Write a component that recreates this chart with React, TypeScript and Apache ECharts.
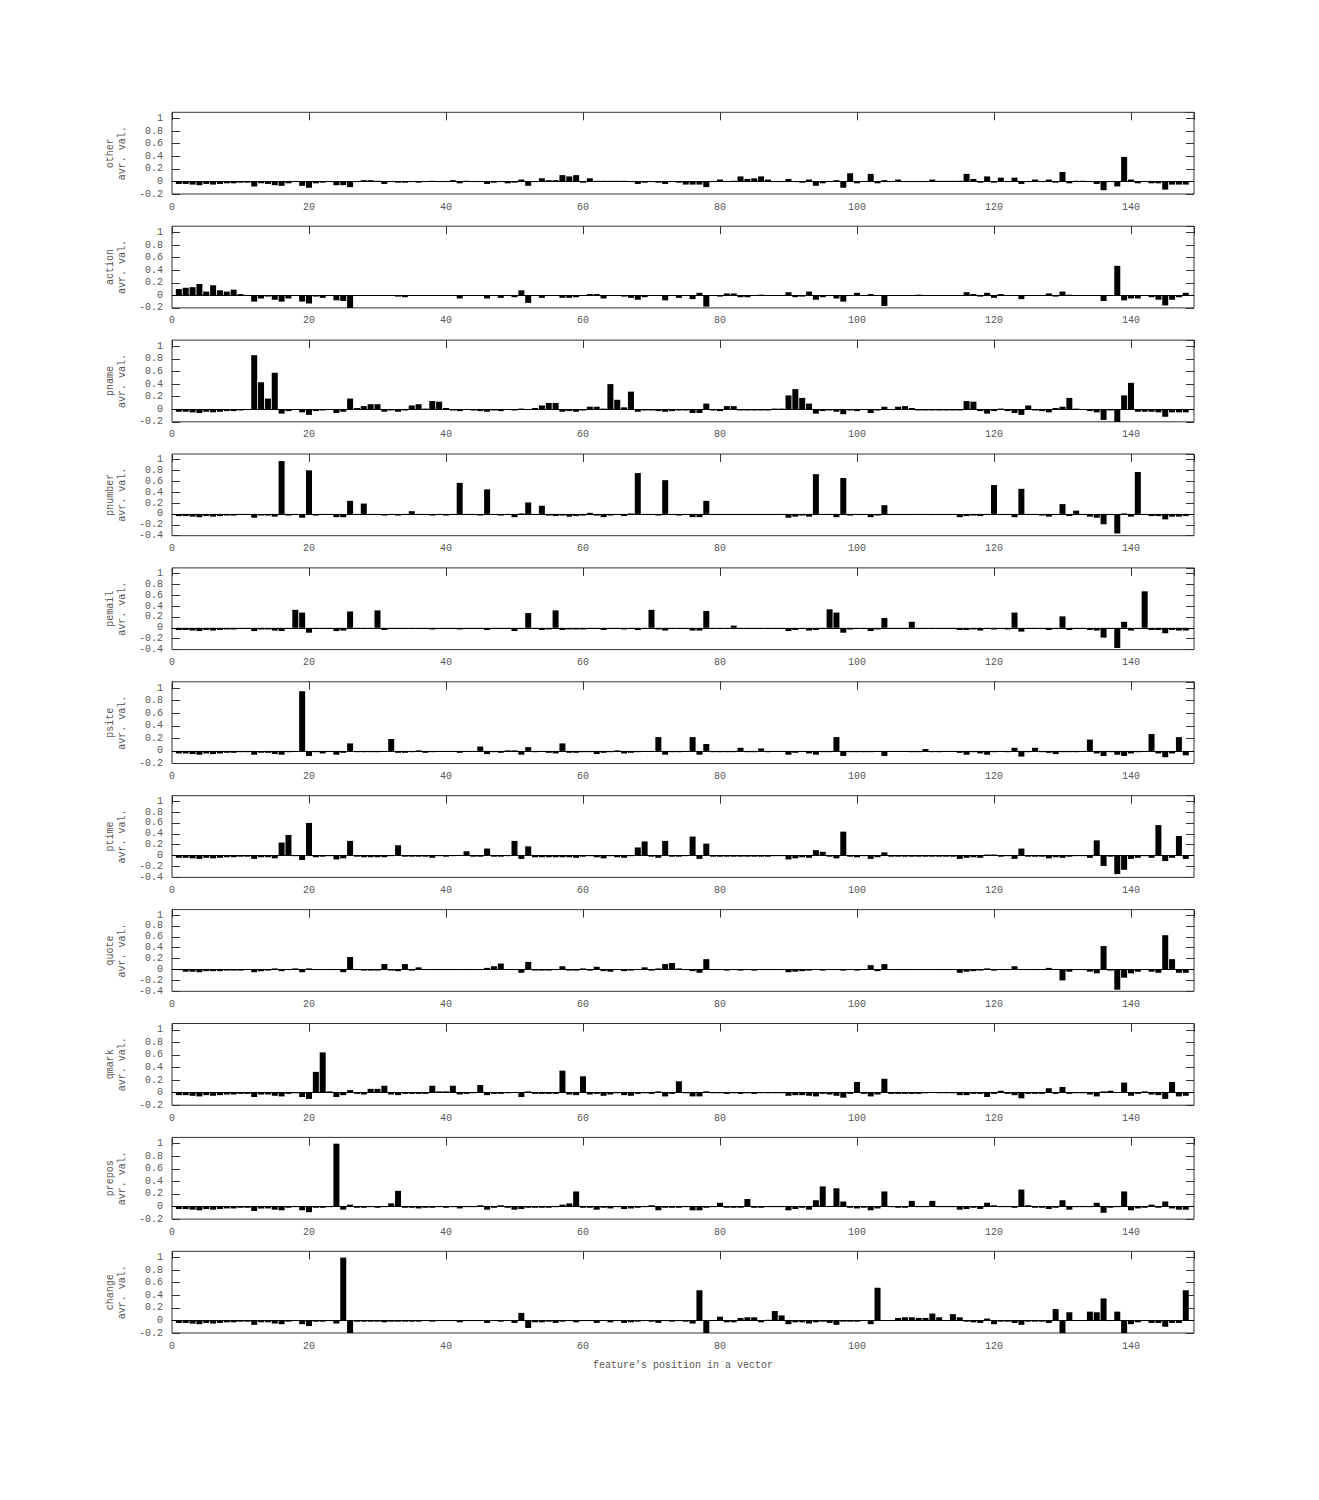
import React, { useEffect, useRef } from "react";
import * as echarts from "echarts";

const panelNames = ["other", "action", "pname", "pnumber", "pemail", "psite", "ptime", "quote", "qmark", "prepos", "change"];
const yMins = [-0.2, -0.2, -0.2, -0.4, -0.4, -0.2, -0.4, -0.4, -0.2, -0.2, -0.2];
const yMax = 1.1;
const xMax = 149.2;
const xTitle = "feature's position in a vector";
const yTitleSuffix = "avr. val.";

const other = [
  -0.04,-0.04,-0.05,-0.06,-0.04,-0.05,-0.04,-0.03,-0.03,-0.02,
  -0.02,-0.08,-0.03,-0.04,-0.06,-0.07,-0.03,-0.01,-0.07,-0.1,
  -0.03,-0.02,-0.01,-0.06,-0.06,-0.09,-0.01,0.02,0.02,0.01,
  -0.04,-0.01,-0.02,-0.02,-0.01,-0.02,-0.01,0.01,-0.01,-0.01,
  0.02,-0.03,0.01,-0.01,-0.01,-0.04,-0.02,-0.01,-0.03,-0.02,
  0.03,-0.07,-0.01,0.05,0.02,0.02,0.1,0.08,0.1,-0.02,
  0.05,0.01,0.01,0.01,0.01,0.01,-0.01,-0.04,-0.02,-0.01,
  -0.02,-0.04,-0.01,-0.02,-0.05,-0.05,-0.05,-0.09,-0.01,0.03,
  -0.01,0.01,0.08,0.04,0.05,0.08,0.03,-0.01,-0.01,0.04,
  -0.01,-0.02,0.03,-0.07,-0.03,-0.01,0.02,-0.1,0.13,-0.03,
  -0.01,0.12,-0.03,0.02,-0.01,0.03,-0.01,-0.01,-0.01,-0.01,
  0.03,0.01,0.01,0.01,0.01,0.12,0.04,-0.02,0.08,-0.02,
  0.06,-0.01,0.06,-0.04,-0.01,0.03,-0.01,0.03,-0.02,0.15,
  -0.03,0.01,0.01,-0.01,-0.04,-0.14,-0.01,-0.08,0.39,0.03,
  -0.03,-0.01,-0.03,-0.03,-0.13,-0.05,-0.05,-0.05,
];

const action = [
  0.1,0.12,0.13,0.18,0.06,0.16,0.08,0.06,0.09,0.02,
  -0.01,-0.1,-0.05,-0.02,-0.07,-0.1,-0.05,-0.01,-0.1,-0.13,
  -0.02,-0.04,-0.01,-0.08,-0.09,-0.25,-0.01,-0.01,-0.01,-0.01,
  -0.01,-0.01,-0.02,-0.03,-0.01,-0.01,-0.01,-0.01,-0.01,-0.01,
  -0.01,-0.05,-0.01,-0.01,-0.01,-0.05,-0.01,-0.04,-0.01,-0.03,
  0.08,-0.12,-0.01,-0.04,-0.01,-0.01,-0.04,-0.04,-0.03,-0.01,
  0.02,0.02,-0.05,-0.01,-0.01,-0.02,-0.04,-0.07,-0.03,-0.01,
  -0.01,-0.08,-0.01,-0.04,-0.01,-0.06,0.04,-0.18,-0.01,-0.02,
  0.03,0.03,-0.03,-0.03,-0.01,0.01,-0.01,-0.01,-0.01,0.05,
  -0.03,-0.02,0.06,-0.07,-0.03,-0.01,-0.05,-0.1,-0.01,0.04,
  -0.01,0.02,-0.01,-0.17,-0.01,-0.01,-0.01,-0.01,0.01,-0.01,
  -0.01,-0.01,-0.01,-0.01,-0.01,0.05,0.02,-0.02,0.04,-0.04,
  0.02,-0.01,-0.01,-0.06,-0.01,-0.01,-0.01,0.03,-0.02,0.06,
  0.01,-0.01,-0.01,-0.01,-0.01,-0.09,-0.01,0.47,-0.08,-0.05,
  -0.05,-0.01,-0.03,-0.07,-0.16,-0.07,-0.03,0.04,
];

const pname = [
  -0.04,-0.04,-0.05,-0.06,-0.04,-0.05,-0.04,-0.03,-0.03,-0.02,
  -0.01,0.86,0.43,0.17,0.58,-0.07,-0.03,-0.01,-0.05,-0.09,
  -0.03,-0.02,-0.01,-0.06,-0.04,0.17,0.02,0.05,0.08,0.08,
  -0.04,-0.02,-0.04,-0.02,0.06,0.08,0.01,0.13,0.12,0.02,
  -0.02,-0.03,-0.01,-0.02,-0.03,-0.04,-0.02,-0.03,-0.01,-0.02,
  0.01,-0.01,0.02,0.06,0.1,0.1,-0.04,-0.03,-0.04,-0.02,
  0.04,0.04,0.01,0.4,0.15,0.03,0.28,-0.04,-0.02,-0.02,
  -0.03,-0.04,-0.03,-0.02,-0.02,-0.06,-0.06,0.09,-0.02,-0.03,
  0.05,0.05,-0.02,-0.02,-0.02,-0.02,-0.02,0.01,0.01,0.22,
  0.32,0.18,0.09,-0.07,-0.03,-0.02,-0.04,-0.08,-0.02,-0.03,
  -0.01,-0.06,-0.02,0.04,-0.01,0.04,0.05,0.02,-0.02,-0.02,
  -0.02,-0.02,-0.02,-0.02,-0.02,0.13,0.12,-0.03,-0.07,-0.03,
  0.01,-0.03,-0.06,-0.09,0.06,-0.02,-0.03,-0.05,0.02,0.04,
  0.18,0.01,-0.01,-0.03,-0.05,-0.17,-0.02,-0.22,0.22,0.42,
  -0.04,-0.04,-0.04,-0.05,-0.12,-0.05,-0.05,-0.05,
];

const pnumber = [
  -0.04,-0.04,-0.05,-0.06,-0.04,-0.05,-0.04,-0.03,-0.03,-0.02,
  -0.02,-0.07,-0.03,-0.03,-0.05,0.97,-0.03,-0.01,-0.07,0.8,
  -0.03,-0.02,-0.01,-0.06,-0.06,0.24,-0.01,0.19,-0.02,-0.02,
  -0.03,-0.02,-0.03,-0.02,0.05,-0.02,-0.01,-0.03,-0.01,-0.03,
  -0.01,0.57,-0.02,-0.01,-0.03,0.45,-0.02,-0.03,-0.01,-0.06,
  0.01,0.21,-0.02,0.15,-0.03,-0.04,-0.03,-0.05,-0.04,-0.03,
  0.02,-0.03,-0.06,-0.03,-0.01,-0.04,0.01,0.75,-0.02,-0.01,
  -0.03,0.62,-0.02,-0.03,-0.01,-0.06,-0.06,0.24,-0.02,-0.02,
  -0.02,-0.02,-0.02,-0.02,-0.02,-0.02,-0.02,-0.02,-0.02,-0.07,
  -0.05,-0.03,-0.05,0.73,-0.02,-0.02,-0.06,0.66,-0.03,-0.02,
  -0.02,-0.06,-0.03,0.16,-0.02,-0.02,-0.02,-0.02,-0.02,-0.02,
  -0.02,-0.02,-0.02,-0.02,-0.06,-0.04,-0.03,-0.04,-0.02,0.53,
  -0.02,-0.02,-0.06,0.46,-0.02,-0.02,-0.03,-0.05,-0.02,0.18,
  -0.04,0.06,-0.02,-0.05,-0.07,-0.19,-0.02,-0.36,0.01,-0.05,
  0.77,-0.02,-0.04,-0.04,-0.1,-0.05,-0.05,-0.04,
];

const pemail = [
  -0.04,-0.04,-0.05,-0.06,-0.04,-0.05,-0.04,-0.03,-0.03,-0.02,
  -0.02,-0.06,-0.03,-0.03,-0.05,-0.06,-0.02,0.33,0.28,-0.09,
  -0.02,-0.02,-0.01,-0.06,-0.05,0.3,-0.02,-0.01,-0.02,0.32,
  -0.04,-0.02,-0.02,-0.02,-0.02,-0.02,-0.01,-0.03,-0.01,-0.01,
  -0.01,-0.03,-0.01,-0.01,-0.02,-0.04,-0.01,-0.02,-0.01,-0.06,
  -0.01,0.27,-0.02,-0.04,-0.03,0.32,-0.04,-0.03,-0.03,-0.03,
  -0.02,-0.02,-0.04,-0.02,-0.02,-0.03,-0.01,-0.04,-0.02,0.33,
  -0.03,-0.05,-0.02,-0.01,-0.01,-0.05,-0.05,0.31,-0.02,-0.02,
  -0.02,0.04,-0.02,-0.01,-0.01,-0.01,-0.01,-0.01,-0.02,-0.06,
  -0.04,-0.02,-0.05,-0.04,-0.02,0.34,0.28,-0.09,-0.03,-0.02,
  -0.01,-0.06,-0.03,0.18,-0.02,-0.02,-0.01,0.11,-0.02,-0.02,
  -0.02,-0.02,-0.02,-0.02,-0.04,-0.04,-0.03,-0.05,-0.02,-0.03,
  -0.02,-0.03,0.28,-0.07,-0.02,-0.02,-0.02,-0.04,-0.01,0.21,
  -0.04,-0.02,-0.02,-0.04,-0.05,-0.18,-0.02,-0.37,0.11,-0.05,
  -0.02,0.67,-0.04,-0.04,-0.1,-0.04,-0.05,-0.05,
];

const psite = [
  -0.04,-0.04,-0.05,-0.06,-0.04,-0.05,-0.04,-0.03,-0.03,-0.02,
  -0.02,-0.06,-0.03,-0.03,-0.05,-0.06,-0.02,-0.01,0.95,-0.08,
  -0.02,-0.04,-0.01,-0.06,-0.03,0.12,-0.02,-0.02,-0.02,-0.02,
  -0.01,0.19,-0.03,-0.03,-0.02,0.01,-0.03,-0.02,-0.01,-0.01,
  -0.01,-0.03,-0.01,-0.01,0.07,-0.05,-0.02,-0.03,0.01,0.01,
  -0.06,0.06,-0.02,-0.01,-0.03,-0.04,0.12,-0.03,-0.03,-0.02,
  -0.02,-0.05,-0.03,-0.02,0.01,-0.04,-0.03,-0.02,-0.01,-0.01,
  0.22,-0.06,-0.02,-0.02,-0.01,0.22,-0.06,0.11,-0.02,-0.02,
  -0.02,-0.02,0.05,-0.02,-0.02,0.04,-0.02,-0.01,-0.01,-0.06,
  -0.03,-0.01,-0.04,-0.06,-0.02,-0.02,0.22,-0.08,-0.02,-0.02,
  -0.02,-0.02,-0.01,-0.08,-0.01,-0.01,-0.01,-0.02,-0.02,0.03,
  -0.02,-0.02,-0.01,-0.01,-0.03,-0.06,-0.02,-0.04,-0.06,-0.02,
  -0.01,-0.02,0.05,-0.09,-0.02,0.05,-0.02,-0.03,-0.05,-0.02,
  -0.02,-0.02,-0.01,0.18,-0.04,-0.08,-0.02,-0.06,-0.08,-0.04,
  -0.02,-0.01,0.27,-0.04,-0.1,-0.04,0.22,-0.07,
];

const ptime = [
  -0.04,-0.04,-0.05,-0.06,-0.04,-0.05,-0.04,-0.03,-0.03,-0.02,
  -0.02,-0.06,-0.03,-0.03,-0.05,0.24,0.38,-0.01,-0.08,0.6,
  -0.03,-0.02,-0.01,-0.07,-0.05,0.27,-0.02,-0.03,-0.03,-0.03,
  -0.03,-0.01,0.19,-0.02,-0.02,-0.02,-0.02,-0.04,-0.01,-0.02,
  -0.01,0.01,0.08,-0.02,-0.02,0.13,-0.02,-0.02,-0.01,0.27,
  -0.06,0.17,-0.03,-0.03,-0.03,-0.03,-0.03,-0.03,-0.04,-0.02,
  -0.01,-0.03,-0.05,-0.01,-0.03,-0.04,-0.01,0.15,0.26,-0.02,
  -0.04,0.27,-0.02,-0.02,-0.01,0.35,-0.06,0.22,-0.02,-0.02,
  -0.02,-0.02,-0.02,-0.02,-0.02,-0.02,-0.02,-0.01,-0.01,-0.07,
  -0.05,-0.03,-0.04,0.1,0.07,-0.02,-0.05,0.44,-0.02,-0.03,
  -0.01,-0.06,-0.03,0.06,-0.02,-0.02,-0.02,-0.02,-0.02,-0.02,
  -0.02,-0.02,-0.02,-0.02,-0.06,-0.04,-0.03,-0.04,0.02,0.02,
  -0.02,-0.01,-0.06,0.13,-0.02,-0.02,-0.02,-0.05,-0.03,-0.04,
  -0.02,-0.01,-0.01,-0.04,0.28,-0.19,-0.02,-0.34,-0.26,-0.06,
  -0.04,-0.01,-0.04,0.56,-0.1,-0.04,0.36,-0.06,
];

const quote = [
  -0.01,-0.04,-0.04,-0.05,-0.03,-0.03,-0.03,-0.02,-0.02,-0.02,
  -0.01,-0.05,-0.03,-0.02,0.02,-0.03,-0.01,0.02,-0.05,0.02,
  -0.01,-0.01,-0.01,-0.01,-0.05,0.23,-0.01,-0.02,-0.02,-0.02,
  0.1,-0.02,-0.03,0.1,-0.02,0.04,-0.01,-0.01,-0.01,-0.01,
  -0.01,-0.01,-0.01,-0.01,-0.01,0.03,0.06,0.11,0.01,0.01,
  -0.06,0.14,-0.02,-0.02,-0.02,-0.01,0.06,-0.02,-0.02,0.02,
  -0.02,0.05,-0.03,-0.04,-0.01,-0.03,-0.02,0.01,0.04,-0.02,
  0.02,0.1,0.12,0.02,-0.01,-0.03,-0.06,0.19,-0.01,-0.01,
  -0.02,-0.01,-0.02,-0.01,-0.02,-0.01,-0.01,-0.01,-0.01,-0.05,
  -0.04,-0.03,-0.02,0.01,-0.02,-0.01,-0.01,-0.02,-0.01,-0.02,
  -0.01,0.08,-0.03,0.1,-0.01,-0.01,-0.01,-0.01,-0.01,-0.01,
  -0.01,-0.01,-0.01,-0.01,-0.06,-0.04,-0.03,-0.02,0.02,-0.02,
  -0.01,-0.01,0.06,0.01,-0.01,-0.01,-0.01,0.03,0.01,-0.2,
  -0.04,-0.01,-0.01,-0.04,-0.07,0.43,-0.02,-0.37,-0.15,-0.07,
  -0.04,-0.01,-0.04,-0.06,0.63,0.19,-0.06,-0.06,
];

const qmark = [
  -0.04,-0.04,-0.05,-0.06,-0.04,-0.05,-0.04,-0.03,-0.03,-0.02,
  -0.02,-0.07,-0.03,-0.03,-0.05,-0.06,-0.02,-0.01,-0.07,-0.1,
  0.33,0.64,0.02,-0.07,-0.04,0.04,-0.02,-0.03,0.06,0.06,
  0.11,-0.03,-0.04,-0.02,-0.02,-0.02,-0.02,0.11,0.02,0.02,
  0.11,-0.03,-0.02,-0.01,0.12,-0.04,-0.02,-0.02,-0.01,0.01,
  -0.07,0.02,-0.02,-0.02,-0.02,-0.02,0.35,-0.03,-0.04,0.26,
  -0.03,-0.02,-0.05,-0.03,-0.01,-0.04,-0.05,-0.02,-0.01,-0.02,
  0.02,-0.06,-0.02,0.18,-0.01,-0.06,-0.06,0.02,-0.01,-0.01,
  -0.02,-0.01,-0.02,-0.01,-0.02,-0.01,-0.01,-0.01,-0.01,-0.05,
  -0.04,-0.04,-0.05,-0.06,-0.02,-0.03,-0.05,-0.08,-0.02,0.17,
  -0.02,-0.06,-0.03,0.22,-0.02,-0.02,-0.02,-0.02,-0.02,-0.01,
  0.01,-0.01,-0.01,-0.01,-0.04,-0.04,-0.02,-0.02,-0.07,-0.02,
  0.03,-0.02,-0.04,-0.09,-0.02,-0.02,-0.02,0.07,-0.02,0.09,
  -0.02,-0.01,-0.01,-0.03,-0.06,0.02,0.03,0.01,0.16,-0.05,
  -0.02,0.02,-0.03,-0.04,-0.1,0.17,-0.06,-0.05,
];

const prepos = [
  -0.04,-0.04,-0.05,-0.06,-0.04,-0.05,-0.04,-0.03,-0.03,-0.02,
  -0.02,-0.07,-0.03,-0.03,-0.05,-0.06,-0.02,-0.01,-0.06,-0.09,
  -0.02,-0.02,-0.01,1.0,-0.05,0.03,-0.02,-0.02,-0.01,-0.02,
  -0.01,0.05,0.25,-0.02,-0.02,-0.03,-0.02,-0.02,-0.01,-0.02,
  -0.01,-0.03,-0.01,-0.01,0.02,-0.05,-0.02,0.02,-0.02,-0.05,
  -0.04,-0.02,-0.02,-0.02,-0.02,-0.01,0.03,0.05,0.24,-0.02,
  -0.02,-0.05,-0.02,-0.03,-0.01,-0.04,-0.03,-0.02,-0.01,0.02,
  -0.06,-0.02,-0.02,-0.02,-0.01,-0.06,-0.06,-0.02,-0.01,0.06,
  -0.02,-0.02,-0.02,0.12,-0.02,-0.02,-0.01,-0.01,-0.01,-0.06,
  -0.04,-0.02,-0.05,0.1,0.32,0.01,0.29,0.08,-0.02,-0.03,
  -0.02,-0.06,-0.03,0.24,-0.01,-0.02,-0.02,0.09,-0.01,-0.01,
  0.09,-0.01,-0.01,-0.01,-0.05,-0.04,-0.02,-0.04,0.06,0.02,
  -0.01,-0.01,-0.02,0.27,0.02,-0.02,-0.02,-0.04,-0.02,0.1,
  -0.05,-0.01,-0.01,-0.01,0.06,-0.1,-0.02,-0.01,0.24,-0.06,
  -0.03,-0.02,0.03,-0.02,0.08,-0.03,-0.05,-0.05,
];

const change = [
  -0.04,-0.04,-0.05,-0.06,-0.04,-0.05,-0.04,-0.03,-0.03,-0.02,
  -0.02,-0.07,-0.03,-0.03,-0.05,-0.06,-0.02,-0.01,-0.06,-0.09,
  -0.02,-0.02,-0.01,-0.05,1.0,-0.22,-0.02,-0.02,-0.02,-0.02,
  -0.03,-0.02,-0.02,-0.02,-0.02,-0.02,-0.01,-0.02,-0.01,-0.01,
  -0.01,-0.03,-0.01,-0.01,-0.01,-0.04,-0.01,-0.02,-0.01,-0.04,
  0.12,-0.12,-0.03,-0.03,-0.02,-0.04,-0.02,-0.01,-0.03,-0.01,
  -0.01,-0.04,-0.01,-0.03,-0.01,-0.04,-0.03,-0.02,-0.01,-0.02,
  -0.04,-0.01,-0.02,-0.01,-0.02,-0.05,0.48,-0.2,-0.01,0.06,
  -0.03,-0.03,0.04,0.05,0.05,-0.03,0.01,0.15,0.08,-0.06,
  -0.03,-0.03,-0.05,-0.03,-0.02,-0.04,-0.07,-0.02,-0.02,-0.02,
  -0.01,-0.06,0.52,-0.01,-0.01,0.04,0.05,0.05,0.04,0.04,
  0.11,0.05,-0.01,0.1,0.05,-0.02,-0.03,-0.04,0.03,-0.06,
  -0.02,-0.02,-0.04,-0.07,-0.02,-0.02,-0.02,-0.04,0.18,-0.21,
  0.13,-0.01,-0.01,0.14,0.13,0.35,-0.01,0.14,-0.23,-0.06,
  -0.03,-0.01,-0.04,-0.04,-0.1,-0.04,-0.04,0.48,
];

const panelValues = [other, action, pname, pnumber, pemail, psite, ptime, quote, qmark, prepos, change];

const FONT = "'Liberation Mono', 'DejaVu Sans Mono', monospace";
const TEXT = "#555";
const AXIS = "#333";

function fmtY(v: number): string {
  if (Math.abs(v * 5 - Math.round(v * 5)) > 1e-6) return "";
  const r = Math.round(v * 10) / 10;
  return r === 0 ? "0" : String(r);
}
function fmtX(v: number): string {
  if (Math.abs(v / 20 - Math.round(v / 20)) > 1e-6) return "";
  return String(Math.round(v));
}

export default function App() {
  const ref = useRef<HTMLDivElement>(null);
  useEffect(() => {
    if (!ref.current) return;
    const chart = echarts.init(ref.current, undefined, { renderer: "svg" });
    const n = panelNames.length;
    const top0 = 104.3;
    const step = 113.9;
    const h = 81.7;
    const grid: any[] = [];
    const xAxis: any[] = [];
    const yAxis: any[] = [];
    const series: any[] = [];
    for (let i = 0; i < n; i++) {
      grid.push({
        left: 164,
        width: 1022,
        top: top0 + step * i,
        height: h,
        show: true,
        borderColor: AXIS,
        borderWidth: 1,
        backgroundColor: "transparent",
      });
      const isLast = i === n - 1;
      xAxis.push({
        gridIndex: i,
        type: "value",
        position: "bottom",
        min: 0,
        max: xMax,
        interval: 20,
        axisLine: { show: false, onZero: false },
        axisTick: { show: false },
        splitLine: { show: false },
        axisLabel: {
          formatter: fmtX,
          showMaxLabel: false,
          color: TEXT,
          fontFamily: FONT,
          fontSize: 10,
          margin: 8,
        },
        name: isLast ? xTitle : "",
        nameLocation: "middle",
        nameGap: 27,
        nameTextStyle: { color: TEXT, fontFamily: FONT, fontSize: 10 },
      });
      xAxis.push({
        gridIndex: i,
        type: "value",
        position: "top",
        min: 0,
        max: xMax,
        interval: 20,
        axisLine: { show: false, onZero: false },
        axisTick: { show: true, inside: true, length: 8, lineStyle: { color: AXIS, width: 1 } },
        splitLine: { show: false },
        axisLabel: { show: false },
      });
      const yCommon = {
        gridIndex: i,
        type: "value",
        min: yMins[i],
        max: yMax,
        interval: 0.2,
        splitLine: { show: false },
        axisLine: { show: false, onZero: false },
        axisTick: { show: true, inside: true, length: 8, lineStyle: { color: AXIS, width: 1 } },
      };
      yAxis.push({
        ...yCommon,
        position: "left",
        axisLabel: {
          formatter: fmtY,
          showMaxLabel: false,
          color: TEXT,
          fontFamily: FONT,
          fontSize: 10,
          margin: 9,
        },
        name: panelNames[i] + "\n" + yTitleSuffix,
        nameLocation: "middle",
        nameRotate: 90,
        nameGap: 44,
        nameTextStyle: { color: TEXT, fontFamily: FONT, fontSize: 10, lineHeight: 12 },
      });
      yAxis.push({
        ...yCommon,
        position: "right",
        axisLabel: { show: false },
      });
      series.push({
        type: "bar",
        xAxisIndex: 2 * i,
        yAxisIndex: 2 * i,
        data: panelValues[i].map((v, k) => [k + 1, v]),
        barWidth: 6,
        itemStyle: { color: "#000" },
        silent: true,
        markLine: {
          silent: true,
          symbol: "none",
          label: { show: false },
          lineStyle: { color: "#000", width: 1, type: "solid" },
          data: [{ yAxis: 0 }],
        },
      });
    }
    chart.setOption({
      animation: false,
      backgroundColor: "#fff",
      grid,
      xAxis,
      yAxis,
      series,
    });
    return () => chart.dispose();
  }, []);
  return <div ref={ref} style={{ width: 1303, height: 1484 }} />;
}
